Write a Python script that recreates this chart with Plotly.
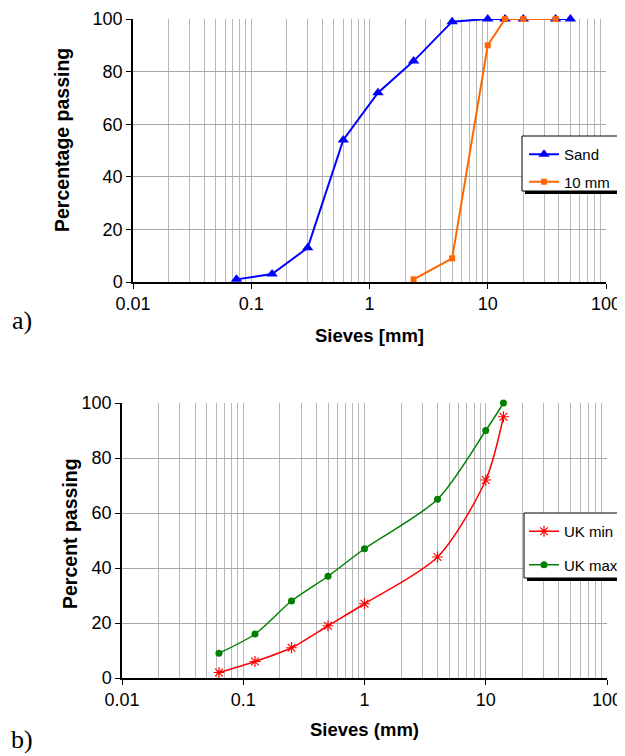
import plotly.graph_objects as go

# ---- data ----
sand_sieves = [0.075, 0.15, 0.3, 0.6, 1.18, 2.36, 5, 10, 14, 20, 37.5, 50]
sand_passing = [1, 3, 13, 54, 72, 84, 99, 100, 100, 100, 100, 100]

agg10_sieves = [2.36, 5, 10, 14, 20, 37.5]
agg10_passing = [1, 9, 90, 100, 100, 100]

uk_sieves = [0.063, 0.125, 0.25, 0.5, 1, 4, 10, 14]
uk_min = [2, 6, 11, 19, 27, 44, 72, 95]
uk_max = [9, 16, 28, 37, 47, 65, 90, 100]

x_tickvals = [0.01, 0.1, 1, 10, 100]
x_ticktext = ["0.01", "0.1", "1", "10", "100"]
y_tickvals = [0, 20, 40, 60, 80, 100]

# page has an 8px body margin; figure is placed at (8, 8)
OFF = 8
W, H = 625 - OFF, 756 - OFF
def px(x): return (x - OFF) / W
def py(y): return 1 - (y - OFF) / H

FONT = "Liberation Sans, Arial, sans-serif"
GRID = "#b8b8b8"

fig = go.Figure()

fig.add_trace(go.Scatter(x=sand_sieves, y=sand_passing, name="Sand", mode="lines+markers",
                         line=dict(color="#0000ff", width=2),
                         marker=dict(symbol="triangle-up", size=10, color="#0000ff"),
                         xaxis="x", yaxis="y", legend="legend", cliponaxis=False, legendgroup="a"))
fig.add_trace(go.Scatter(x=agg10_sieves, y=agg10_passing, name="10 mm", mode="lines+markers",
                         line=dict(color="#ff6600", width=2),
                         marker=dict(symbol="square", size=6, color="#ff6600"),
                         xaxis="x", yaxis="y", legend="legend", cliponaxis=False, legendgroup="b"))
fig.add_trace(go.Scatter(x=uk_sieves, y=uk_min, name="UK min", mode="lines+markers",
                         line=dict(color="#ff0000", width=1.5, shape="spline", smoothing=0.8),
                         marker=dict(symbol="asterisk-open", size=9, color="#ff0000",
                                     line=dict(color="#ff0000", width=1.2)),
                         xaxis="x2", yaxis="y2", legend="legend2", cliponaxis=False, legendgroup="c"))
fig.add_trace(go.Scatter(x=uk_sieves, y=uk_max, name="UK max", mode="lines+markers",
                         line=dict(color="#008000", width=1.5, shape="spline", smoothing=0.8),
                         marker=dict(symbol="circle", size=7, color="#008000"),
                         xaxis="x2", yaxis="y2", legend="legend2", cliponaxis=False, legendgroup="d"))

def xaxis(domain, anchor):
    return dict(type="log", domain=domain, anchor=anchor, range=[-2, 2],
                tickvals=x_tickvals, ticktext=x_ticktext,
                showgrid=True, gridcolor=GRID, gridwidth=1,
                minor=dict(showgrid=True, gridcolor=GRID, gridwidth=1, dtick="D1", ticks=""),
                showline=True, linecolor="black", linewidth=1.5,
                ticks="outside", ticklen=5, tickcolor="black",
                tickfont=dict(family=FONT, size=18, color="black"), zeroline=False)

def yaxis(domain, anchor):
    return dict(domain=domain, anchor=anchor, range=[0, 100], tickvals=y_tickvals,
                showgrid=True, gridcolor="#a8a8a8", gridwidth=1,
                showline=True, linecolor="black", linewidth=1.5,
                ticks="outside", ticklen=5, tickcolor="black",
                tickfont=dict(family=FONT, size=18, color="black"), zeroline=False)

fig.update_layout(
    width=W, height=H, margin=dict(l=0, r=0, t=0, b=0, autoexpand=False),
    paper_bgcolor="white", plot_bgcolor="white",
    showlegend=True,
    xaxis=xaxis([px(133), px(606)], "y"),
    yaxis=yaxis([py(282), py(19)], "x"),
    xaxis2=xaxis([px(122), px(607)], "y2"),
    yaxis2=yaxis([py(678), py(403)], "x2"),
    legend=dict(x=px(524), y=py(138), xanchor="left", yanchor="top",
                bgcolor="rgba(0,0,0,0)", borderwidth=0, tracegroupgap=5,
                font=dict(family=FONT, size=15, color="black")),
    legend2=dict(x=px(524), y=py(515), xanchor="left", yanchor="top",
                 bgcolor="rgba(0,0,0,0)", borderwidth=0, tracegroupgap=11,
                 font=dict(family=FONT, size=15, color="black")),
)

shapes = []
for (x0, y0, x1, y1) in [(522, 136, 620, 191), (524, 513, 620, 578)]:
    shapes.append(dict(type="rect", xref="paper", yref="paper", layer="above",
                       x0=px(x0 + 3), x1=px(x1 + 3), y0=py(y1 + 3), y1=py(y0 + 3),
                       fillcolor="black", line=dict(width=0)))
    shapes.append(dict(type="rect", xref="paper", yref="paper", layer="above",
                       x0=px(x0), x1=px(x1), y0=py(y1), y1=py(y0),
                       fillcolor="white", line=dict(color="black", width=1)))
fig.update_layout(shapes=shapes)

ann = [
    dict(text="<b>Percentage passing</b>", x=px(62), y=py(140), textangle=-90,
         font=dict(family=FONT, size=19.5, color="black")),
    dict(text="<b>Sieves [mm]</b>", x=px(369), y=py(335),
         font=dict(family=FONT, size=18.5, color="black")),
    dict(text="a)", x=px(22), y=py(320),
         font=dict(family="Liberation Serif, Times New Roman, serif", size=26, color="black")),
    dict(text="<b>Percent passing</b>", x=px(70), y=py(534), textangle=-90,
         font=dict(family=FONT, size=19.5, color="black")),
    dict(text="<b>Sieves (mm)</b>", x=px(364), y=py(729),
         font=dict(family=FONT, size=18.5, color="black")),
    dict(text="b)", x=px(22), y=py(739),
         font=dict(family="Liberation Serif, Times New Roman, serif", size=26, color="black")),
]
for a in ann:
    a.update(xref="paper", yref="paper", showarrow=False, xanchor="center", yanchor="middle")
fig.update_layout(annotations=ann)

fig.write_html("out.html")
